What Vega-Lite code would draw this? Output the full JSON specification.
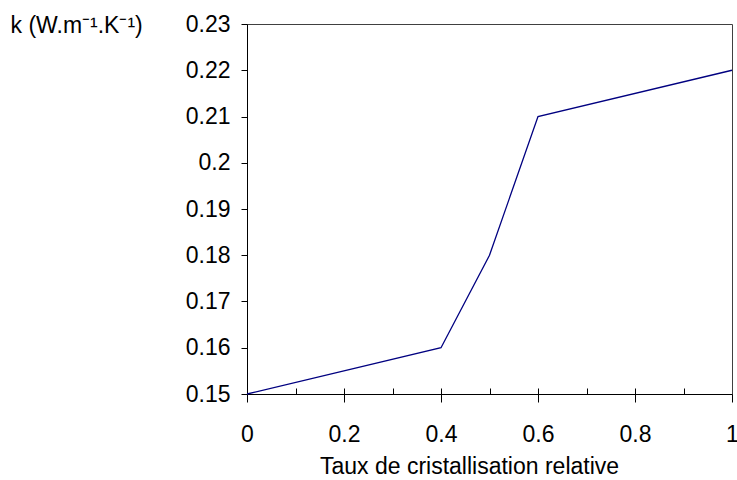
{
  "$schema": "https://vega.github.io/schema/vega-lite/v6.json",
  "width": 485,
  "height": 370,
  "autosize": {"type": "none"},
  "padding": {"left": 247, "top": 24, "right": 5, "bottom": 86},
  "background": "white",
  "config": {
    "view": {"stroke": "#404040", "strokeWidth": 1},
    "font": "Liberation Sans",
    "axis": {
      "domainColor": "black",
      "tickColor": "black",
      "labelColor": "black",
      "titleColor": "black",
      "labelFont": "Liberation Sans",
      "titleFont": "Liberation Sans",
      "labelFontSize": 23,
      "titleFontSize": 23,
      "titleFontWeight": "normal",
      "grid": false,
      "domainWidth": 1,
      "tickWidth": 1
    }
  },
  "data": {
    "values": [
      {"taux": 0, "k": 0.15},
      {"taux": 0.4, "k": 0.16},
      {"taux": 0.5, "k": 0.18},
      {"taux": 0.6, "k": 0.21},
      {"taux": 1, "k": 0.22}
    ]
  },
  "layer": [
    {
      "mark": {"type": "line", "color": "#000080", "strokeWidth": 1.3},
      "encoding": {
        "x": {
          "field": "taux",
          "type": "quantitative",
          "scale": {"domain": [0, 1], "nice": false, "zero": false},
          "axis": {
            "orient": "bottom",
            "values": [0, 0.2, 0.4, 0.6, 0.8, 1],
            "format": "~g",
            "tickSize": 8,
            "labelPadding": 21,
            "labelFlush": false,
            "labelOverlap": false,
            "title": "Taux de cristallisation relative",
            "titleAnchor": "start",
            "titleAlign": "center",
            "titleX": 222,
            "titleY": 79,
            "titleBaseline": "alphabetic"
          }
        },
        "y": {
          "field": "k",
          "type": "quantitative",
          "scale": {"domain": [0.15, 0.23], "nice": false, "zero": false},
          "axis": {
            "values": [0.15, 0.16, 0.17, 0.18, 0.19, 0.2, 0.21, 0.22, 0.23],
            "format": "~g",
            "tickSize": 6,
            "labelPadding": 11,
            "labelFlush": false,
            "labelOverlap": false,
            "title": "k (W.m⁻¹.K⁻¹)",
            "titleAngle": 0,
            "titleAlign": "left",
            "titleBaseline": "alphabetic",
            "titleX": -237,
            "titleY": 8
          }
        }
      }
    },
    {
      "mark": {"type": "line", "strokeOpacity": 0},
      "encoding": {
        "x": {
          "field": "taux",
          "type": "quantitative",
          "scale": {"domain": [0, 1], "nice": false, "zero": false},
          "axis": {
            "orient": "top",
            "offset": -370,
            "values": [0.1, 0.2, 0.3, 0.4, 0.5, 0.6, 0.7, 0.8, 0.9],
            "tickSize": 6,
            "labels": false,
            "domain": false,
            "title": null
          }
        },
        "y": {
          "field": "k",
          "type": "quantitative",
          "scale": {"domain": [0.15, 0.23], "nice": false, "zero": false},
          "axis": null
        }
      }
    }
  ],
  "resolve": {"axis": {"x": "independent", "y": "independent"}}
}
